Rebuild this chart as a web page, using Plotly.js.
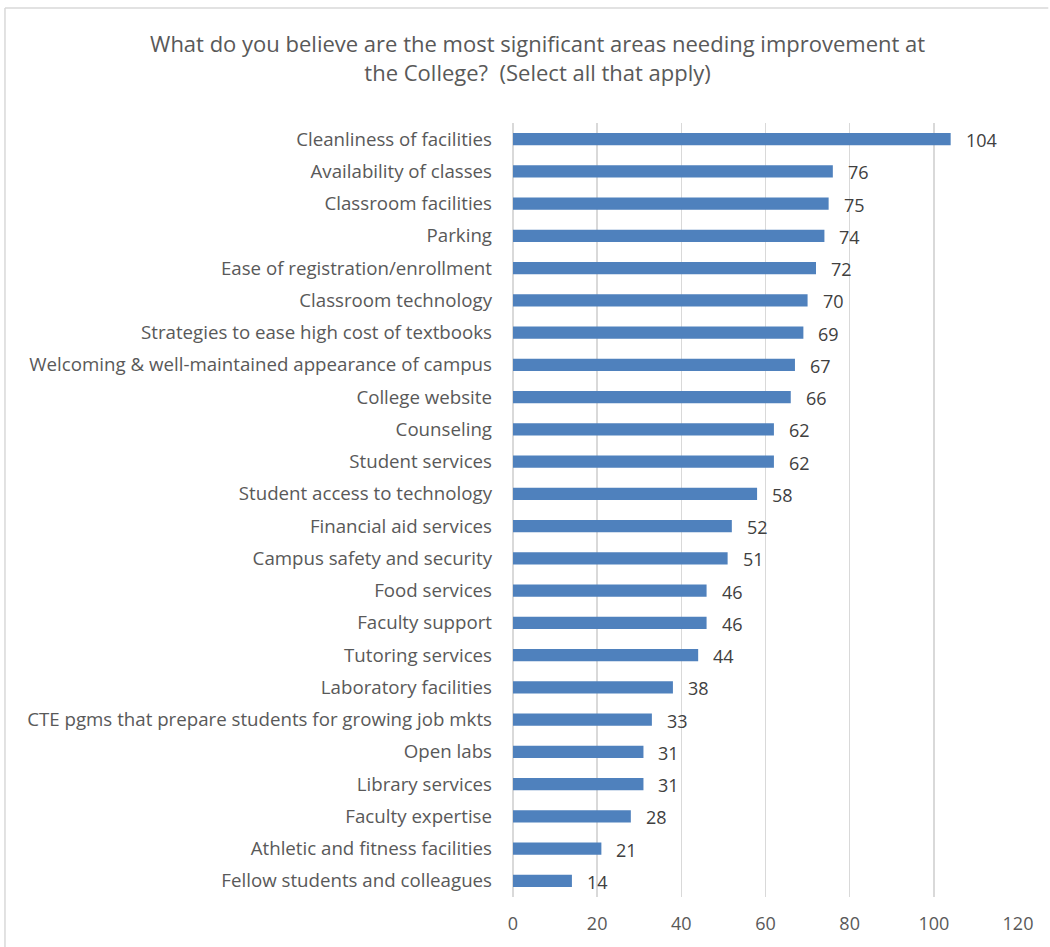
<!DOCTYPE html>
<html style="overflow:hidden;"><head><meta charset="utf-8">
<script src="https://cdn.plot.ly/plotly-3.0.1.min.js"></script>
<style>html,body{margin:0;padding:0;background:#fff;overflow:hidden;}</style>
</head><body>
<div id="chart" style="width:1050px;height:947px;"></div>
<script>
const categories = [
  "Cleanliness of facilities",
  "Availability of classes",
  "Classroom facilities",
  "Parking",
  "Ease of registration/enrollment",
  "Classroom technology",
  "Strategies to ease high cost of textbooks",
  "Welcoming & well-maintained appearance of campus",
  "College website",
  "Counseling",
  "Student services",
  "Student access to technology",
  "Financial aid services",
  "Campus safety and security",
  "Food services",
  "Faculty support",
  "Tutoring services",
  "Laboratory facilities",
  "CTE pgms that prepare students for growing job mkts",
  "Open labs",
  "Library services",
  "Faculty expertise",
  "Athletic and fitness facilities",
  "Fellow students and colleagues"
];
const counts = [104, 76, 75, 74, 72, 70, 69, 67, 66, 62, 62, 58, 52, 51, 46, 46, 44, 38, 33, 31, 31, 28, 21, 14];
const xTicks = [0, 20, 40, 60, 80, 100, 120];

const font = "'Open Sans', sans-serif";

const trace = {
  type: "bar",
  orientation: "h",
  x: counts,
  y: categories,
  marker: {color: "#4f81bd"},
  hoverinfo: "x+y"
};

const annotations = counts.map((v, i) => ({
  x: v, y: categories[i], xref: "x", yref: "y",
  text: String(v), showarrow: false, xanchor: "left", yanchor: "middle",
  xshift: 13, yshift: -1,
  font: {family: font, size: 18, color: "#404040"}
}));

const layout = {
  width: 1050, height: 947,
  margin: {l: 513, r: 32, t: 123, b: 50},
  paper_bgcolor: "#ffffff", plot_bgcolor: "#ffffff",
  bargap: 0.62,
  showlegend: false,
  title: {
    text: "What do you believe are the most significant areas needing improvement at<br>the College?  (Select all that apply)",
    font: {family: font, size: 22, color: "#595959"},
    x: 0.512, xref: "container", xanchor: "center",
    y: 0.945, yref: "container", yanchor: "top"
  },
  xaxis: {
    range: [0, 120], tickvals: xTicks, ticktext: xTicks.map(String),
    showgrid: true, gridcolor: "#d9d9d9", gridwidth: 1.5,
    zeroline: true, zerolinecolor: "#d9d9d9", zerolinewidth: 1.5,
    showline: false, ticks: "",
    ticklabelstandoff: 14,
    tickfont: {family: font, size: 18, color: "#595959"},
    fixedrange: true
  },
  yaxis: {
    autorange: "reversed", type: "category",
    showgrid: false, zeroline: false, showline: false, ticks: "",
    ticklabelstandoff: 20,
    tickfont: {family: font, size: 18.7, color: "#595959"},
    fixedrange: true
  },
  annotations: annotations,
  shapes: [
    {type: "line", xref: "paper", yref: "paper",
     x0: -1.006, x1: 1.06, y0: 1.1486, y1: 1.1486,
     line: {color: "#d9d9d9", width: 1.5}, layer: "below"},
    {type: "line", xref: "paper", yref: "paper",
     x0: -1.006, x1: -1.006, y0: -0.07, y1: 1.1486,
     line: {color: "#d9d9d9", width: 1.5}, layer: "below"}
  ]
};

Plotly.newPlot("chart", [trace], layout, {displayModeBar: false, staticPlot: true});
</script>
</body></html>
